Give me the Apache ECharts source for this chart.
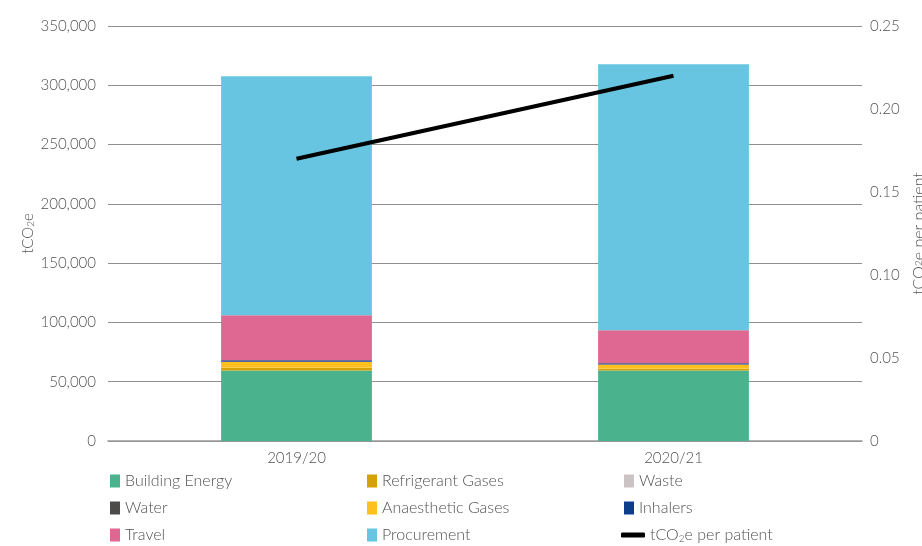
<!DOCTYPE html>
<html><head><meta charset="utf-8">
<script src="https://cdn.jsdelivr.net/npm/echarts@6/dist/echarts.min.js"></script>
<style>html,body{margin:0;padding:0;background:#fff}#c{width:922px;height:546px}</style>
</head><body><div id="c"></div>
<script>
const categories = ['2019/20', '2020/21'];
const buildingEnergy = [59500, 59500];
const refrigerantGases = [2000, 1200];
const waste = [200, 200];
const water = [100, 100];
const anaestheticGases = [5000, 3500];
const inhalers = [1400, 1100];
const travel = [37900, 27900];
const procurement = [201500, 224200];
const perPatient = [0.17, 0.22];
const leftTicks = [0, 50000, 100000, 150000, 200000, 250000, 300000, 350000];
const rightTicks = [0, 0.05, 0.10, 0.15, 0.20, 0.25];

const seriesDefs = [
  ['Building Energy', buildingEnergy, '#4AB38E'],
  ['Refrigerant Gases', refrigerantGases, '#D4A106'],
  ['Waste', waste, '#CCC4C4'],
  ['Water', water, '#4D4A4A'],
  ['Anaesthetic Gases', anaestheticGases, '#FEC01F'],
  ['Inhalers', inhalers, '#0C3E8C'],
  ['Travel', travel, '#DE6892'],
  ['Procurement', procurement, '#67C5E1']
];
const lineName = 'tCO2e per patient';
const font = 'Lato, "Open Sans", sans-serif';
const txt = '#525252';
const fw = 300;

const series = seriesDefs.map(([name, data, color]) => ({
  name, type: 'bar', stack: 'total', data, barWidth: '40%',
  itemStyle: {color}, yAxisIndex: 0
}));
series.push({
  name: lineName, type: 'line', data: perPatient, yAxisIndex: 1,
  symbol: 'none', lineStyle: {color: '#000', width: 4}, itemStyle: {color: '#000'}, z: 10
});

const legendBase = {
  orient: 'vertical', itemGap: 9, itemWidth: 10, itemHeight: 13, icon: 'rect',
  padding: 0, height: 120,
  textStyle: {fontFamily: font, fontSize: 16, fontWeight: fw, color: txt, height: 18, lineHeight: 18}
};
const chart = echarts.init(document.getElementById('c'));
chart.setOption({
  animation: false,
  grid: {left: 108, right: 60, top: 26, bottom: 105, outerBoundsMode: 'none', containLabel: false},
  legend: [
    Object.assign({}, legendBase, {left: 110, top: 472, data: ['Building Energy', 'Water', 'Travel']}),
    Object.assign({}, legendBase, {left: 367, top: 472, data: ['Refrigerant Gases', 'Anaesthetic Gases', 'Procurement']}),
    Object.assign({}, legendBase, {left: 624, top: 472, data: ['Waste', 'Inhalers']}),
    Object.assign({}, legendBase, {left: 621, top: 526, itemWidth: 24, itemHeight: 5, icon: 'roundRect',
      data: [lineName],
      formatter: () => 'tCO{sub|2}e per patient',
      textStyle: {fontFamily: font, fontSize: 16, fontWeight: fw, color: txt, height: 18, lineHeight: 18,
        rich: {sub: {fontFamily: font, fontSize: 10, fontWeight: fw, color: txt, verticalAlign: 'bottom', padding: [8,0,0,0]}}}})
  ],
  xAxis: {
    type: 'category', data: categories,
    axisLine: {lineStyle: {color: '#999', width: 1.5}}, axisTick: {show: false},
    axisLabel: {fontFamily: font, fontSize: 15, fontWeight: fw, color: txt, margin: 10}
  },
  yAxis: [
    {
      type: 'value', min: 0, max: 350000, interval: 50000,
      name: 'tCO{sub|2}e', nameLocation: 'middle', nameGap: 72, nameMoveOverlap: false,
      nameTextStyle: {fontFamily: font, fontSize: 15, fontWeight: fw, color: txt, rich: {sub: {fontFamily: font, fontSize: 10, fontWeight: fw, color: txt, padding: [6,0,0,0]}}},
      axisLine: {show: false}, axisTick: {show: false},
      splitLine: {lineStyle: {color: '#8f8f8f', width: 1}},
      axisLabel: {fontFamily: font, fontSize: 15, fontWeight: fw, color: txt, margin: 12,
        formatter: v => v.toLocaleString('en-US')}
    },
    {
      type: 'value', min: 0, max: 0.25, interval: 0.05, position: 'right',
      name: 'tCO{sub|2}e per patient', nameLocation: 'middle', nameGap: 48,
      nameTextStyle: {fontFamily: font, fontSize: 16, fontWeight: fw, color: txt, rich: {sub: {fontFamily: font, fontSize: 10, fontWeight: fw, color: txt}}},
      axisLine: {show: false}, axisTick: {show: false}, splitLine: {show: false},
      axisLabel: {fontFamily: font, fontSize: 15, fontWeight: fw, color: txt, margin: 8,
        formatter: v => v === 0 ? '0' : v.toFixed(2)}
    }
  ],
  series
});
</script></body></html>
